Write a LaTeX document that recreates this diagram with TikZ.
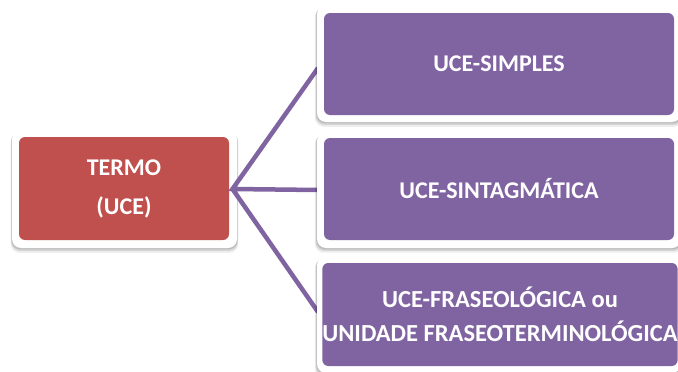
\documentclass[tikz,border=0pt]{standalone}
\usepackage{fontspec}
\setmainfont{Carlito}
\usetikzlibrary{shadows}

\definecolor{termored}{HTML}{C0504D}
\definecolor{ucepurple}{HTML}{8064A2}

\tikzset{
  frame/.style={fill=white, rounded corners=9pt, inner sep=0pt,
    general shadow={shadow scale=1.012, shadow yshift=-4pt, opacity=0.07, fill=black},
    general shadow={shadow scale=1.008, shadow yshift=-2.5pt, opacity=0.10, fill=black},
    general shadow={shadow scale=1.004, shadow yshift=-1.2pt, opacity=0.12, fill=black}},
  card/.style={rounded corners=6pt, inner sep=0pt, text=white, align=center,
    font=\bfseries\fontsize{24}{36}\selectfont},
  link/.style={draw=ucepurple, line width=4.5pt}
}

\begin{document}
\begin{tikzpicture}[x=1pt,y=-1pt]
\useasboundingbox (0,0) rectangle (678,372);

% central term
\node[frame, minimum width=225, minimum height=118] (termoF) at (124.5,189) {};
\node[card, fill=termored, minimum width=210, minimum height=103,
      font=\bfseries\fontsize{24}{39}\selectfont] (termo) at (124,188.5) {TERMO\\(UCE)};
\coordinate (hub) at (232.5,189);

% links to the three kinds
\coordinate (t1) at (318,68);
\coordinate (t2) at (318,190);
\coordinate (t3) at (318,312);
\draw[link] (t1) -- (hub) -- (t2);
\draw[link] (hub) -- (t3);

% kinds of units
\node[frame, minimum width=364, minimum height=117] (simplesF) at (499,63.5) {};
\node[card, fill=ucepurple, minimum width=350, minimum height=102] (simples) at (499,64) {UCE-SIMPLES};

\node[frame, minimum width=364, minimum height=116] (sintF) at (499,190) {};
\node[card, fill=ucepurple, minimum width=350, minimum height=102] (sint) at (499,189) {UCE-SINTAGMÁTICA};

\node[frame, minimum width=364, minimum height=117] (fraseF) at (499,314.5) {};
\node[card, fill=ucepurple, minimum width=350, minimum height=103,
      font=\bfseries\fontsize{24.5}{34}\selectfont] (frase) at (500,314.5)
      {UCE-FRASEOLÓGICA ou\\UNIDADE FRASEOTERMINOLÓGICA};
\end{tikzpicture}
\end{document}
